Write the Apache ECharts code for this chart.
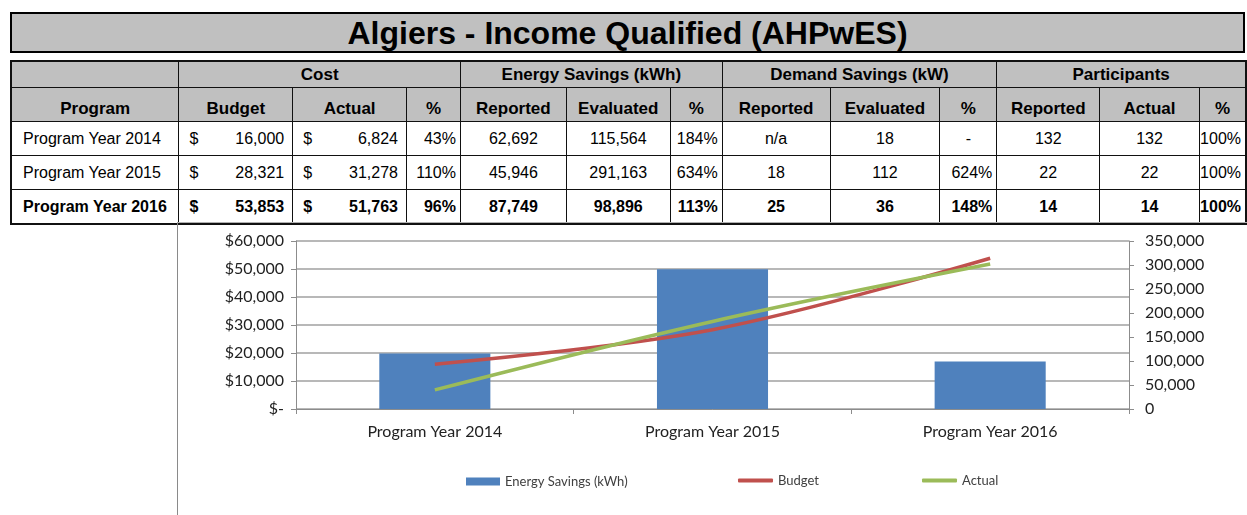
<!DOCTYPE html>
<html>
<head>
<meta charset="utf-8">
<script src="https://cdn.jsdelivr.net/npm/echarts@6/dist/echarts.min.js"></script>
<style>
  html, body { margin: 0; padding: 0; background: #fff; }
  body { width: 1247px; height: 515px; position: relative; overflow: hidden; font-family: "Liberation Sans", Arial, sans-serif; }
  #title { position: absolute; left: 10px; top: 12px; width: 1231px; height: 37px; background: #C0C0C0; border: 2px solid #000;
           font: bold 32px "Liberation Sans", Arial, sans-serif; text-align: center; line-height: 38px; color: #000; }
  #tbl { position: absolute; left: 10px; top: 60px; border-collapse: collapse; table-layout: fixed; border: 2px solid #111; }
  #tbl td { border: 1px solid #111; padding: 0; color: #000; overflow: hidden; white-space: nowrap; }
  #tbl tr.grp td { background: #C0C0C0; height: 25px; font: bold 17px "Liberation Sans", Arial, sans-serif; text-align: center; }
  #tbl tr.hdr td { background: #C0C0C0; height: 31px; font: bold 17px "Liberation Sans", Arial, sans-serif; text-align: center; vertical-align: bottom; padding-bottom: 2px; }
  #tbl tr.dat td { height: 33px; font: 16px "Liberation Sans", Arial, sans-serif; text-align: center; }
  #tbl tr.dat.b td { font-weight: bold; }
  #tbl tr.dat td.prog { text-align: left; padding-left: 11px; }
  #tbl tr.dat td.pct { text-align: right; padding-right: 4px; }
  #tbl tr.dat td.cur { padding: 0 8px 0 10px; }
  #tbl td.cur span.s { float: left; }
  #tbl td.cur span.n { float: right; }
  #frame { position: absolute; left: 177px; top: 222px; width: 1070px; height: 293px; border-left: 1px solid #8a8a8a; border-top: 1px solid #b0b0b0; }
  #chart { position: absolute; left: 0; top: 222px; width: 1247px; height: 293px; }
</style>
</head>
<body>
<div id="title">Algiers - Income Qualified (AHPwES)</div>
<table id="tbl"></table>
<div id="frame"></div>
<div id="chart"></div>
<script>
// ---- Data ----
var programs = ['Program Year 2014', 'Program Year 2015', 'Program Year 2016'];
var costBudget = [16000, 28321, 53853];
var costActual = [6824, 31278, 51763];
var costPct = ['43%', '110%', '96%'];
var energyReported = [62692, 45946, 87749];
var energyEvaluated = [115564, 291163, 98896];
var energyPct = ['184%', '634%', '113%'];
var demandReported = ['n/a', '18', '25'];
var demandEvaluated = ['18', '112', '36'];
var demandPct = ['-', '624%', '148%'];
var partReported = ['132', '22', '14'];
var partActual = ['132', '22', '14'];
var partPct = ['100%', '100%', '100%'];

var groupHeaders = [['', 1], ['Cost', 3], ['Energy Savings (kWh)', 3], ['Demand Savings (kW)', 3], ['Participants', 3]];
var colHeaders = ['Program', 'Budget', 'Actual', '%', 'Reported', 'Evaluated', '%', 'Reported', 'Evaluated', '%', 'Reported', 'Actual', '%'];
var colWidths = [168, 114, 114, 54, 106, 104, 52, 108, 110, 57, 103, 100, 45];

var leftTicks = [0, 10000, 20000, 30000, 40000, 50000, 60000];
var rightTicks = [0, 50000, 100000, 150000, 200000, 250000, 300000, 350000];

// ---- Table ----
function fmt(n) { return n.toLocaleString('en-US'); }
var tbl = document.getElementById('tbl');
var cg = document.createElement('colgroup');
colWidths.forEach(function (w) { var c = document.createElement('col'); c.style.width = w + 'px'; cg.appendChild(c); });
tbl.appendChild(cg);
var html = '<tr class="grp">';
groupHeaders.forEach(function (g) { html += '<td colspan="' + g[1] + '">' + g[0] + '</td>'; });
html += '</tr><tr class="hdr">';
colHeaders.forEach(function (h) { html += '<td>' + h + '</td>'; });
html += '</tr>';
programs.forEach(function (p, i) {
  html += '<tr class="dat' + (i === 2 ? ' b' : '') + '">';
  html += '<td class="prog">' + p + '</td>';
  html += '<td class="cur"><span class="s">$</span><span class="n">' + fmt(costBudget[i]) + '</span></td>';
  html += '<td class="cur"><span class="s">$</span><span class="n">' + fmt(costActual[i]) + '</span></td>';
  html += '<td class="pct">' + costPct[i] + '</td>';
  html += '<td>' + fmt(energyReported[i]) + '</td>';
  html += '<td>' + fmt(energyEvaluated[i]) + '</td>';
  html += '<td class="pct">' + energyPct[i] + '</td>';
  html += '<td>' + demandReported[i] + '</td>';
  html += '<td>' + demandEvaluated[i] + '</td>';
  html += '<td' + (demandPct[i] === '-' ? '' : ' class="pct"') + '>' + demandPct[i] + '</td>';
  html += '<td>' + partReported[i] + '</td>';
  html += '<td>' + partActual[i] + '</td>';
  html += '<td class="pct">' + partPct[i] + '</td>';
  html += '</tr>';
});
tbl.innerHTML += html;

// ---- Chart ----
var chart = echarts.init(document.getElementById('chart'), null, { renderer: 'canvas' });
var fontFam = 'Lato, "Open Sans", sans-serif';
var axisGray = '#8c8c8c';
function legendBase(extra) {
  return Object.assign({
    padding: 0, itemWidth: 35, selectedMode: false,
    textStyle: { fontFamily: fontFam, fontSize: 13, color: '#404040' }
  }, extra);
}
chart.setOption({
  animation: false,
  textStyle: { fontFamily: fontFam },
  grid: { left: 296, right: 118, top: 19, bottom: 106 },
  legend: [
    legendBase({ left: 466, top: 253, itemHeight: 8, itemWidth: 34, data: [{ name: 'Energy Savings (kWh)', icon: 'rect' }] }),
    legendBase({ left: 738, top: 252, itemHeight: 4, data: [{ name: 'Budget', icon: 'roundRect' }] }),
    legendBase({ left: 922, top: 252, itemHeight: 4, data: [{ name: 'Actual', icon: 'roundRect' }] })
  ],
  xAxis: {
    type: 'category', data: programs, boundaryGap: true,
    axisLine: { lineStyle: { color: axisGray, width: 1 } },
    axisTick: { show: true, length: 5, lineStyle: { color: axisGray } },
    axisLabel: { fontSize: 16, color: '#222', margin: 15, fontFamily: fontFam }
  },
  yAxis: [
    {
      type: 'value', min: leftTicks[0], max: leftTicks[leftTicks.length - 1], interval: 10000,
      axisLine: { show: true, lineStyle: { color: axisGray } },
      axisTick: { show: true, length: 5, lineStyle: { color: axisGray } },
      splitLine: { show: true, lineStyle: { color: '#a0a0a0', width: 1.5 } },
      axisLabel: { fontSize: 16, color: '#222', margin: 12, fontFamily: fontFam,
        formatter: function (v) { return v === 0 ? '$-' : '$' + fmt(v); } }
    },
    {
      type: 'value', min: rightTicks[0], max: rightTicks[rightTicks.length - 1], interval: 50000,
      axisLine: { show: true, lineStyle: { color: axisGray } },
      axisTick: { show: true, length: 5, lineStyle: { color: axisGray } },
      splitLine: { show: false },
      axisLabel: { fontSize: 16, color: '#222', margin: 16, fontFamily: fontFam,
        formatter: function (v) { return fmt(v); } }
    }
  ],
  series: [
    { name: 'Energy Savings (kWh)', type: 'bar', yAxisIndex: 1, data: energyEvaluated, barWidth: '40%',
      itemStyle: { color: '#4F81BD' } },
    { name: 'Budget', type: 'line', yAxisIndex: 0, data: costBudget, smooth: 0.35, symbol: 'none',
      lineStyle: { color: '#C0504D', width: 3.5 }, itemStyle: { color: '#C0504D' } },
    { name: 'Actual', type: 'line', yAxisIndex: 0, data: costActual, smooth: 0.35, symbol: 'none',
      lineStyle: { color: '#9BBB59', width: 3.5 }, itemStyle: { color: '#9BBB59' } }
  ]
});
</script>
</body>
</html>
